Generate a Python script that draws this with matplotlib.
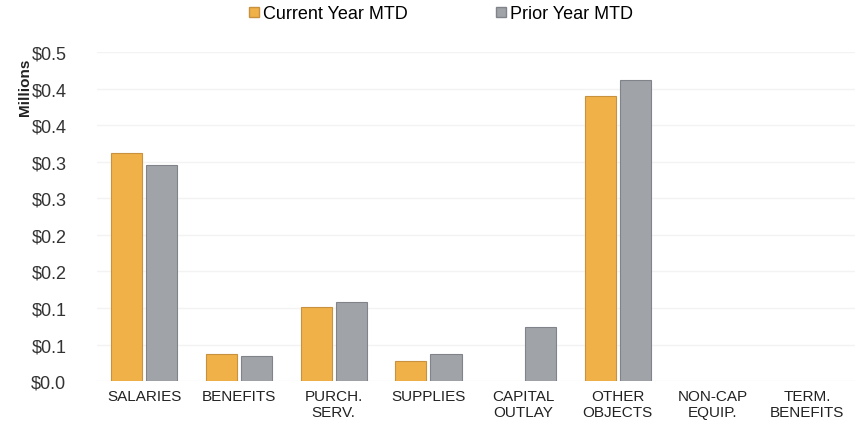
import numpy as np
from decimal import Decimal, ROUND_HALF_UP
from matplotlib import pyplot as plt
from matplotlib.ticker import FuncFormatter, MultipleLocator
from matplotlib.patches import Patch

categories = ["SALARIES", "BENEFITS", "PURCH.\nSERV.", "SUPPLIES", "CAPITAL\nOUTLAY",
              "OTHER\nOBJECTS", "NON-CAP\nEQUIP.", "TERM.\nBENEFITS"]
current_mtd = [0.312, 0.037, 0.101, 0.027, 0.0, 0.390, 0.0, 0.0]
prior_mtd = [0.296, 0.035, 0.108, 0.037, 0.074, 0.411, 0.0, 0.0]
series_names = ["Current Year MTD", "Prior Year MTD"]

ORANGE, ORANGE_EDGE = "#F1B149", "#C8913E"
GREY, GREY_EDGE = "#A0A4A8", "#80848A"

plt.rcParams["font.family"] = ["Liberation Sans", "DejaVu Sans"]


def money(v, pos):
    # round half up, one decimal, like a spreadsheet number format
    d = Decimal(str(round(v, 6))).quantize(Decimal("0.1"), rounding=ROUND_HALF_UP)
    return "$%s" % d


def edge_widths(vals, lw=0.8):
    # no outline on empty bars, otherwise a stray line shows at zero
    return [lw if v > 0 else 0 for v in vals]


fig = plt.figure(figsize=(8.65, 4.27), dpi=100)
ax = fig.add_axes([0.112, 0.105, 0.876, 0.771])

x = np.arange(len(categories))
w = 0.33
gap = 0.02
ax.bar(x - w / 2 - gap, current_mtd, w, color=ORANGE, edgecolor=ORANGE_EDGE,
       linewidth=edge_widths(current_mtd))
ax.bar(x + w / 2 + gap, prior_mtd, w, color=GREY, edgecolor=GREY_EDGE,
       linewidth=edge_widths(prior_mtd))

ax.set_xlim(-0.5, len(categories) - 0.5)
ax.set_ylim(0, 0.45)
ax.yaxis.set_major_locator(MultipleLocator(0.05))
ax.yaxis.set_major_formatter(FuncFormatter(money))
ax.set_xticks(x)
ax.set_xticklabels(categories, fontsize=11, color="#222222", linespacing=1.1)
ax.tick_params(axis="y", labelsize=13, length=0, pad=22, labelcolor="#333333")
ax.tick_params(axis="x", length=0, pad=6)
ax.grid(axis="y", color="#F3F3F3", linewidth=1.0)
ax.set_axisbelow(True)
for s in ax.spines.values():
    s.set_visible(False)

fig.text(0.029, 0.796, "Millions", rotation=90, fontsize=11, fontweight="bold",
         ha="center", va="center", color="#222222")

handles = [Patch(facecolor=ORANGE, edgecolor=ORANGE_EDGE),
           Patch(facecolor=GREY, edgecolor=GREY_EDGE)]
fig.legend(handles, series_names, loc="center", bbox_to_anchor=(0.51, 0.965), ncol=2,
           frameon=False, fontsize=13, handlelength=0.55, handleheight=0.55,
           handletextpad=0.2, columnspacing=4.9)

plt.savefig("out.png", dpi=100)
